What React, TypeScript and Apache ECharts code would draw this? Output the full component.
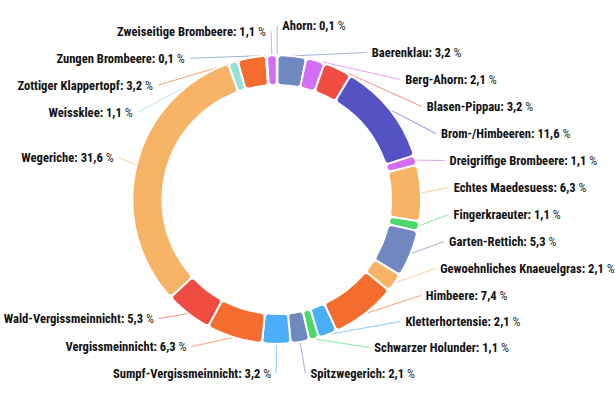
import React, { useEffect, useRef } from "react";
import * as echarts from "echarts";

const categories: string[] = [
  "Ahorn",
  "Baerenklau",
  "Berg-Ahorn",
  "Blasen-Pippau",
  "Brom-/Himbeeren",
  "Dreigriffige Brombeere",
  "Echtes Maedesuess",
  "Fingerkraeuter",
  "Garten-Rettich",
  "Gewoehnliches Knaeuelgras",
  "Himbeere",
  "Kletterhortensie",
  "Schwarzer Holunder",
  "Spitzwegerich",
  "Sumpf-Vergissmeinnicht",
  "Vergissmeinnicht",
  "Wald-Vergissmeinnicht",
  "Wegeriche",
  "Weissklee",
  "Zottiger Klappertopf",
  "Zungen Brombeere",
  "Zweiseitige Brombeere",
];

const shares: number[] = [
  0.1, 3.2, 2.1, 3.2, 11.6, 1.1, 6.3, 1.1, 5.3, 2.1, 7.4, 2.1, 1.1, 2.1, 3.2, 6.3, 5.3, 31.6, 1.1, 3.2, 0.1, 1.1,
];

const colors: string[] = [
  "#4aaef8",
  "#6f88c0",
  "#d46ef5",
  "#f04c42",
  "#5552c4",
  "#d46ef5",
  "#f8b466",
  "#4cd96a",
  "#6f88c0",
  "#f8b466",
  "#f46c2e",
  "#4aaef8",
  "#4cd96a",
  "#6f88c0",
  "#4aaef8",
  "#f46c2e",
  "#f04c42",
  "#f8b466",
  "#96e2d8",
  "#f46c2e",
  "#6f88c0",
  "#d46ef5",
];

const FONT = '"Roboto Condensed", "Liberation Sans", Arial, sans-serif';

export default function App() {
  const ref = useRef<HTMLDivElement>(null);
  useEffect(() => {
    document.body.style.margin = "0";
    if (!ref.current) return;
    const chart = echarts.init(ref.current, undefined, { renderer: "svg" });
    const total = shares.reduce((a, b) => a + b, 0);
    let acc = 0;
    const data = categories.map((name, i) => {
      const mid = (acc + shares[i] / 2) / total;
      acc += shares[i];
      const rightSide = mid < 0.5;
      return {
        name,
        value: shares[i],
        itemStyle: { color: colors[i] },
        labelLine: { length: rightSide ? 33 : 24, lineStyle: { color: colors[i], opacity: 0.65 } },
      };
    });
    chart.setOption({
      animation: false,
      series: [
        {
          type: "pie",
          center: ["45%", "50%"],
          radius: ["61%", "77%"],
          top: 12,
          bottom: 12,
          left: 0,
          right: 0,
          startAngle: 90,
          clockwise: true,
          avoidLabelOverlap: true,
          itemStyle: { borderColor: "#fff", borderWidth: 2, borderRadius: 4 },
          label: {
            show: true,
            overflow: "none",
            fontFamily: FONT,
            fontWeight: "bold",
            fontSize: 12.6,
            lineHeight: 25,
            color: "#111",
            formatter: (p: any) => `${p.name}: ${p.value.toFixed(1).replace(".", ",")}{p| %}`,
            rich: {
              p: { fontFamily: FONT, fontWeight: "normal", fontSize: 12.6, lineHeight: 25, color: "#333" },
            },
          },
          labelLine: { show: true, length: 30, length2: 0 },
          data,
        },
      ],
    });
    return () => chart.dispose();
  }, []);
  return <div ref={ref} style={{ width: 615, height: 399 }} />;
}
